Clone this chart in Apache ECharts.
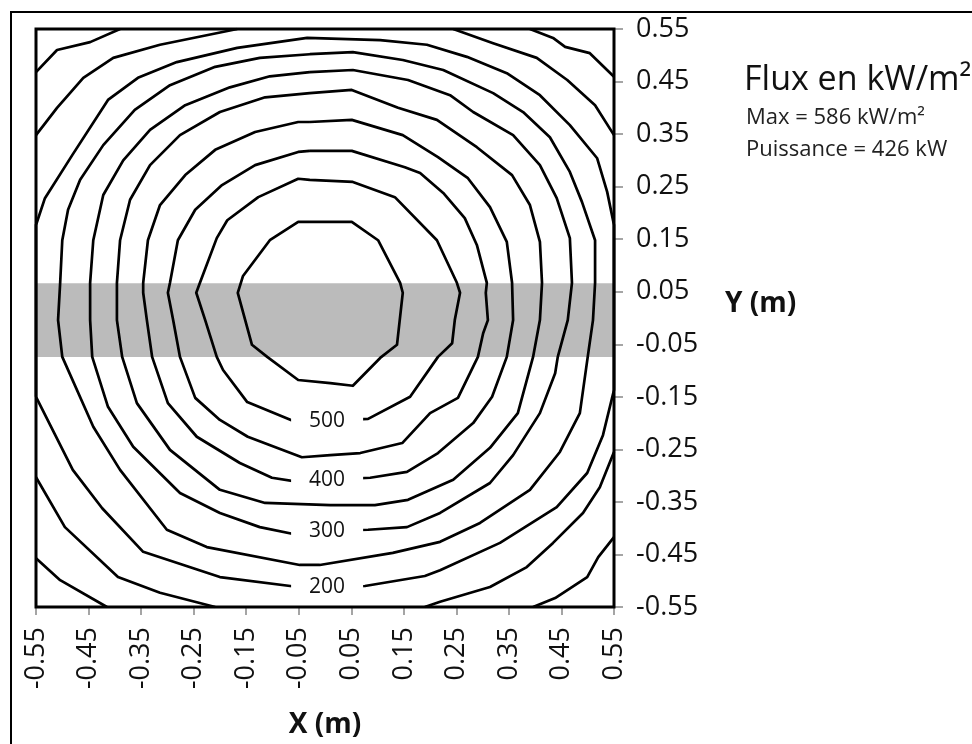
<!DOCTYPE html>
<html>
<head>
<meta charset="utf-8">
<title>Flux en kW/m²</title>
<script src="https://cdn.jsdelivr.net/npm/echarts@6/dist/echarts.min.js"></script>
<style>
  html, body { margin: 0; padding: 0; background: #fff; }
  #chart { width: 972px; height: 744px; }
</style>
</head>
<body>
<div id="chart"></div>
<script>
// iso-flux lines, points in metres [x, y]
var contour550 = [
  [-0.029, 0.183], [0.051, 0.183], [0.101, 0.148], [0.143, 0.067], [0.148, 0.048], [0.137, -0.051],
  [0.105, -0.076], [0.053, -0.129], [0.010, -0.124], [-0.051, -0.118], [-0.110, -0.074], [-0.139, -0.051],
  [-0.166, 0.048], [-0.156, 0.080], [-0.105, 0.148], [-0.051, 0.183], [-0.029, 0.183]
];
var contour500 = [
  [-0.029, 0.263], [0.053, 0.259], [0.133, 0.230], [0.213, 0.148], [0.251, 0.067], [0.257, 0.048],
  [0.247, -0.004], [0.242, -0.048], [0.215, -0.074], [0.162, -0.150], [0.082, -0.192], [0.004, -0.196],
  [-0.051, -0.200], [-0.148, -0.160], [-0.194, -0.099], [-0.206, -0.074], [-0.228, -0.004], [-0.245, 0.048],
  [-0.238, 0.067], [-0.206, 0.152], [-0.186, 0.186], [-0.127, 0.230], [-0.051, 0.265], [-0.029, 0.263]
];
var contour450 = [
  [-0.029, 0.318], [0.051, 0.318], [0.152, 0.287], [0.181, 0.276], [0.225, 0.238], [0.266, 0.190],
  [0.289, 0.139], [0.308, 0.067], [0.306, 0.048], [0.310, -0.004], [0.301, -0.029], [0.291, -0.074],
  [0.253, -0.152], [0.200, -0.181], [0.147, -0.238], [0.067, -0.257], [0.010, -0.261], [-0.044, -0.265],
  [-0.147, -0.226], [-0.200, -0.194], [-0.247, -0.152], [-0.276, -0.074], [-0.289, -0.004], [-0.299, 0.048],
  [-0.295, 0.067], [-0.280, 0.148], [-0.247, 0.206], [-0.196, 0.253], [-0.133, 0.291], [-0.051, 0.316],
  [-0.029, 0.318]
];
var contour400 = [
  [-0.029, 0.373], [0.051, 0.377], [0.148, 0.348], [0.215, 0.306], [0.272, 0.266], [0.314, 0.211],
  [0.346, 0.145], [0.356, 0.067], [0.358, -0.004], [0.346, -0.074], [0.318, -0.150], [0.282, -0.200],
  [0.215, -0.257], [0.156, -0.293], [0.086, -0.304], [0.004, -0.308], [-0.051, -0.312], [-0.101, -0.304],
  [-0.162, -0.276], [-0.244, -0.226], [-0.299, -0.162], [-0.329, -0.074], [-0.339, -0.004], [-0.346, 0.048],
  [-0.346, 0.067], [-0.337, 0.148], [-0.314, 0.215], [-0.266, 0.272], [-0.209, 0.320], [-0.133, 0.354],
  [-0.051, 0.373], [-0.029, 0.373]
];
var contour350 = [
  [-0.029, 0.428], [0.051, 0.434], [0.139, 0.400], [0.213, 0.377], [0.289, 0.325], [0.356, 0.272],
  [0.390, 0.215], [0.409, 0.145], [0.413, 0.067], [0.409, -0.004], [0.396, -0.074], [0.367, -0.181],
  [0.314, -0.247], [0.244, -0.308], [0.158, -0.346], [0.095, -0.356], [0.010, -0.356], [-0.114, -0.352],
  [-0.200, -0.327], [-0.295, -0.251], [-0.358, -0.162], [-0.386, -0.074], [-0.396, -0.004], [-0.396, 0.067],
  [-0.390, 0.148], [-0.371, 0.225], [-0.333, 0.291], [-0.276, 0.348], [-0.200, 0.392], [-0.114, 0.420],
  [-0.029, 0.428]
];
var contour300 = [
  [-0.029, 0.468], [0.053, 0.472], [0.158, 0.453], [0.238, 0.424], [0.282, 0.392], [0.358, 0.348],
  [0.409, 0.291], [0.441, 0.228], [0.466, 0.152], [0.470, 0.067], [0.462, -0.004], [0.443, -0.074],
  [0.438, -0.105], [0.409, -0.181], [0.358, -0.261], [0.314, -0.314], [0.219, -0.371], [0.156, -0.398],
  [0.082, -0.403], [0.004, -0.405], [-0.051, -0.413], [-0.124, -0.398], [-0.200, -0.371], [-0.276, -0.333],
  [-0.365, -0.245], [-0.413, -0.169], [-0.443, -0.074], [-0.447, -0.004], [-0.447, 0.067], [-0.441, 0.148],
  [-0.422, 0.234], [-0.384, 0.300], [-0.333, 0.358], [-0.266, 0.405], [-0.181, 0.439], [-0.105, 0.460],
  [-0.029, 0.468]
];
var contour250 = [
  [-0.029, 0.502], [0.053, 0.506], [0.148, 0.491], [0.225, 0.472], [0.320, 0.428], [0.377, 0.392],
  [0.428, 0.344], [0.466, 0.278], [0.489, 0.221], [0.514, 0.148], [0.514, 0.067], [0.510, -0.004],
  [0.500, -0.074], [0.485, -0.181], [0.447, -0.255], [0.390, -0.327], [0.295, -0.390], [0.219, -0.426],
  [0.129, -0.447], [-0.010, -0.470], [-0.048, -0.470], [-0.225, -0.436], [-0.301, -0.403], [-0.390, -0.289],
  [-0.441, -0.207], [-0.500, -0.074], [-0.508, -0.004], [-0.504, 0.067], [-0.500, 0.148], [-0.489, 0.206],
  [-0.466, 0.263], [-0.422, 0.329], [-0.362, 0.396], [-0.295, 0.443], [-0.209, 0.478], [-0.124, 0.495],
  [-0.029, 0.502]
];
var contour200 = [
  [-0.55, -0.150], [-0.55, 0.177], [-0.533, 0.228], [-0.481, 0.310], [-0.413, 0.415], [-0.356, 0.457],
  [-0.282, 0.487], [-0.167, 0.514], [-0.034, 0.533], [0.105, 0.529], [0.194, 0.520], [0.270, 0.497],
  [0.346, 0.466], [0.409, 0.424], [0.466, 0.367], [0.518, 0.304], [0.537, 0.240], [0.55, 0.177],
  [0.55, -0.137], [0.529, -0.223], [0.499, -0.295], [0.441, -0.360], [0.333, -0.428], [0.219, -0.480],
  [0.190, -0.491], [0.076, -0.510], [0.004, -0.512], [-0.051, -0.512], [-0.200, -0.493], [-0.346, -0.445],
  [-0.424, -0.362], [-0.480, -0.289], [-0.55, -0.150]
];
// the two outer levels only cut the corners
var contour150 = [
  [[-0.55, 0.348], [-0.510, 0.400], [-0.460, 0.457], [-0.403, 0.495], [-0.314, 0.520], [-0.167, 0.55]],
  [[0.244, 0.55], [0.320, 0.523], [0.403, 0.495], [0.461, 0.453], [0.514, 0.405], [0.55, 0.348]],
  [[0.55, -0.255], [0.523, -0.322], [0.491, -0.371], [0.434, -0.428], [0.384, -0.474], [0.314, -0.512], [0.219, -0.540], [0.190, -0.55]],
  [[-0.55, -0.303], [-0.495, -0.398], [-0.394, -0.493], [-0.314, -0.523], [-0.209, -0.55]]
];
var contour100 = [
  [[-0.55, 0.468], [-0.510, 0.510], [-0.447, 0.525], [-0.390, 0.55]],
  [[0.390, 0.55], [0.434, 0.533], [0.457, 0.516], [0.504, 0.504], [0.55, 0.459]],
  [[0.55, -0.417], [0.520, -0.455], [0.499, -0.493], [0.438, -0.533], [0.396, -0.55]],
  [[-0.55, -0.457], [-0.504, -0.499], [-0.415, -0.55]]
];

var labelLevels = [500, 400, 300, 200];
var bandY = [-0.074, 0.066];   // grey strip across the target
var fluxTitle = 'Flux en kW/m²';
var fluxMax = 'Max = 586 kW/m²';
var power = 'Puissance = 426 kW';

var FONT = '"Open Sans", sans-serif';

var contours = [
  { level: 550, pieces: [contour550] },
  { level: 500, pieces: [contour500] },
  { level: 450, pieces: [contour450] },
  { level: 400, pieces: [contour400] },
  { level: 350, pieces: [contour350] },
  { level: 300, pieces: [contour300] },
  { level: 250, pieces: [contour250] },
  { level: 200, pieces: [contour200] },
  { level: 150, pieces: contour150 },
  { level: 100, pieces: contour100 }
];

var series = [];
contours.forEach(function (c) {
  c.pieces.forEach(function (piece) {
    series.push({
      type: 'line',
      name: String(c.level),
      data: piece,
      showSymbol: false,
      silent: true,
      z: 2,
      lineStyle: { color: '#000', width: 2.7, join: 'round' }
    });
  });
});

// level labels sit where each line crosses the bottom middle
var labelPoints = labelLevels.map(function (lv) {
  var line = contours.filter(function (c) { return c.level === lv; })[0].pieces[0];
  var best = null;
  line.forEach(function (p) {
    if (p[1] < 0 && (!best || Math.abs(p[0]) < Math.abs(best[0]))) best = p;
  });
  return { name: String(lv), value: best };
});

series.push({
  type: 'scatter',
  data: labelPoints,
  symbolSize: 0,
  silent: true,
  z: 4,
  itemStyle: { opacity: 1 },
  label: {
    show: true,
    position: 'inside',
    formatter: '{b}',
    fontFamily: FONT,
    fontSize: 21,
    color: '#111',
    backgroundColor: '#fff',
    padding: [2, 18]
  }
});

// grey strip drawn over the lines
series.push({
  type: 'line',
  data: [],
  silent: true,
  z: 5,
  markArea: {
    silent: true,
    itemStyle: { color: 'rgba(150,150,150,0.65)' },
    data: [[{ yAxis: bandY[1] }, { yAxis: bandY[0] }]]
  }
});

var chart = echarts.init(document.getElementById('chart'));
chart.setOption({
  animation: false,
  backgroundColor: '#fff',
  title: [
    {
      text: fluxTitle,
      left: 739,
      top: 58,
      textStyle: { fontFamily: FONT, fontSize: 34, fontWeight: 'normal', color: '#111' }
    },
    {
      text: fluxMax + '\n' + power,
      left: 741,
      top: 97,
      textStyle: { fontFamily: FONT, fontSize: 22, lineHeight: 32, fontWeight: 'normal', color: '#222' }
    }
  ],
  grid: { left: 36, top: 29, width: 578, height: 578, containLabel: false },
  xAxis: {
    type: 'value',
    min: -0.55,
    max: 0.55,
    interval: 0.1,
    position: 'bottom',
    name: 'X (m)',
    nameLocation: 'middle',
    nameGap: 104,
    nameTextStyle: { fontFamily: FONT, fontSize: 28, fontWeight: 'bold', color: '#111' },
    axisLine: { show: false, onZero: false },
    splitLine: { show: false },
    axisTick: { show: true, inside: false, length: 8, lineStyle: { color: '#888', width: 1.5 } },
    axisLabel: {
      rotate: 90,
      margin: 20,
      fontFamily: FONT,
      fontSize: 27,
      color: '#111',
      formatter: function (v) { return v.toFixed(2); }
    }
  },
  yAxis: {
    type: 'value',
    min: -0.55,
    max: 0.55,
    interval: 0.1,
    position: 'right',
    name: 'Y (m)',
    nameLocation: 'middle',
    nameRotate: 0,
    nameGap: 111,
    nameTextStyle: {
      fontFamily: FONT, fontSize: 28, fontWeight: 'bold', color: '#111',
      align: 'left', verticalAlign: 'bottom'
    },
    axisLine: { show: false, onZero: false },
    splitLine: { show: false },
    axisTick: { show: true, inside: false, length: 9, lineStyle: { color: '#888', width: 1.5 } },
    axisLabel: {
      margin: 22,
      fontFamily: FONT,
      fontSize: 27,
      color: '#111',
      formatter: function (v) { return v.toFixed(2); }
    }
  },
  graphic: [
    {
      type: 'rect',
      silent: true,
      z: 100,
      shape: { x: 36, y: 29, width: 578, height: 578 },
      style: { fill: 'none', stroke: '#000', lineWidth: 3 }
    },
    {
      type: 'rect',
      silent: true,
      z: 100,
      shape: { x: 11, y: 12, width: 1000, height: 800 },
      style: { fill: 'none', stroke: '#000', lineWidth: 2 }
    }
  ],
  series: series
});
</script>
</body>
</html>
